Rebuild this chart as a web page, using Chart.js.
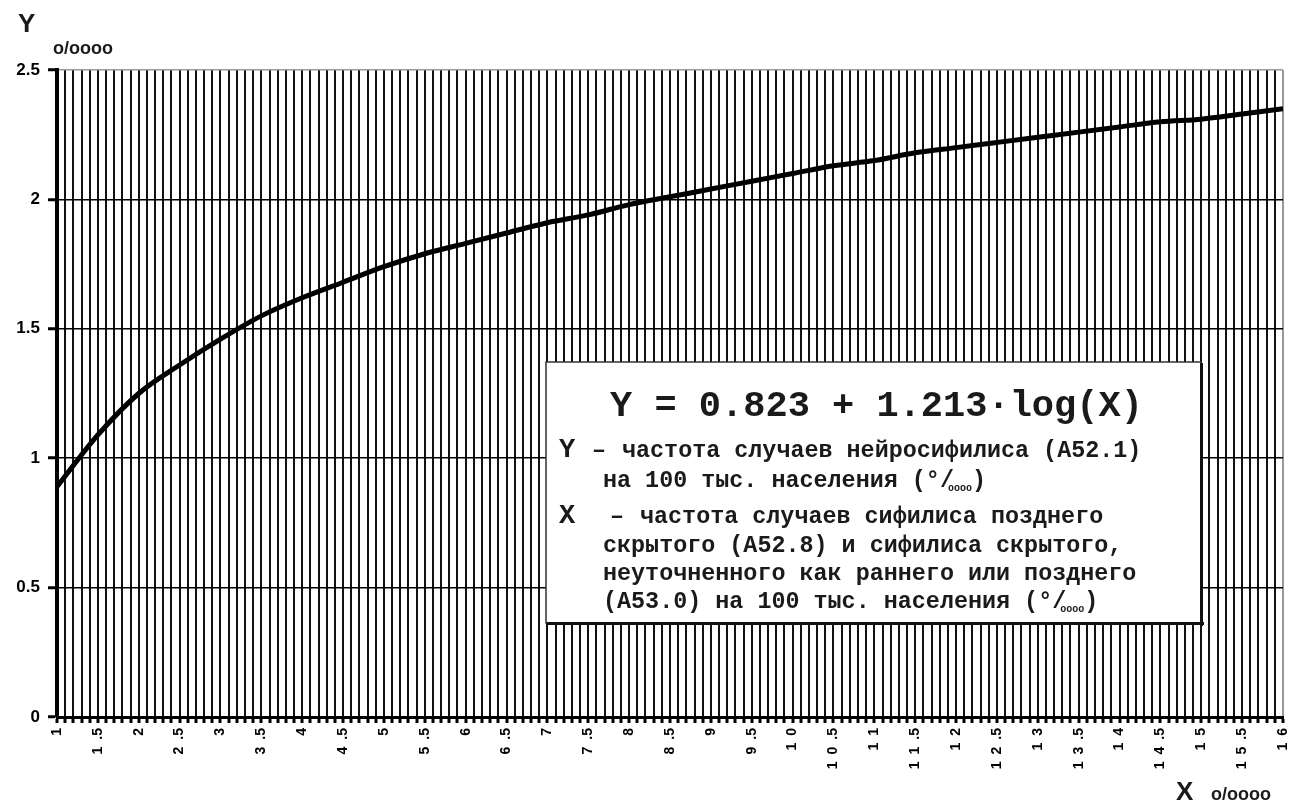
<!DOCTYPE html>
<html>
<head>
<meta charset="utf-8">
<script src="https://cdn.jsdelivr.net/npm/chart.js@4.4.1/dist/chart.umd.min.js"></script>
<style>
	html, body { margin: 0; padding: 0; background: #fff; }
	#wrap { width: 1292px; height: 802px; position: relative; }
</style>
</head>
<body>
<div id="wrap"><canvas id="chart-area"></canvas></div>
<script>
// Curve values, one every 0.5 along X
var xValues = [1, 1.5, 2, 2.5, 3, 3.5, 4, 4.5, 5, 5.5, 6, 6.5, 7, 7.5, 8, 8.5,
	9, 9.5, 10, 10.5, 11, 11.5, 12, 12.5, 13, 13.5, 14, 14.5, 15, 15.5, 16];
var yValues = [0.89, 1.09, 1.25, 1.36, 1.46, 1.55, 1.62, 1.68, 1.74, 1.79, 1.83, 1.87, 1.91, 1.94, 1.98, 2.01,
	2.04, 2.07, 2.10, 2.13, 2.15, 2.18, 2.20, 2.22, 2.24, 2.26, 2.28, 2.30, 2.31, 2.33, 2.35];

// Tick labels (spaced out like the original, en spaces)
var xTickLabels = ['1', '1\u2002.5', '2', '2\u2002.5', '3', '3\u2002.5', '4', '4\u2002.5', '5', '5\u2002.5',
	'6', '6\u2002.5', '7', '7\u2002.5', '8', '8\u2002.5', '9', '9\u2002.5',
	'1\u20020', '1\u20020\u2002.5', '1\u20021', '1\u20021\u2002.5', '1\u20022', '1\u20022\u2002.5',
	'1\u20023', '1\u20023\u2002.5', '1\u20024', '1\u20024\u2002.5', '1\u20025', '1\u20025\u2002.5', '1\u20026'];
var yTickLabels = ['0', '0.5', '1', '1.5', '2', '2.5'];

var formulaText = 'Y = 0.823 + 1.213\u00B7log(X)';

var textColor = '#1a1a1a';
var mono = '"Liberation Mono", "Courier New", monospace';
var sans = '"Liberation Sans", Arial, sans-serif';

function drawParts(ctx, x, y, parts) {
	parts.forEach(function (p) {
		ctx.font = p.font;
		x += p.dx || 0;
		ctx.fillText(p.text, x, y + (p.dy || 0));
		x += ctx.measureText(p.text).width;
	});
	return x;
}

function perMille(body) {
	return [
		{ text: '(', font: body },
		{ text: '\u00B0', font: body },
		{ text: '/', font: body },
		{ text: 'oooo', font: 'bold 10px ' + mono, dx: -6, dy: 4 },
		{ text: ')', font: body }
	];
}

var overlayPlugin = {
	id: 'overlay',
	afterDraw: function (chart) {
		var ctx = chart.ctx;
		ctx.save();
		ctx.fillStyle = textColor;
		ctx.textBaseline = 'alphabetic';
		ctx.textAlign = 'left';

		// axis titles
		ctx.font = 'bold 26px ' + sans;
		ctx.fillText('Y', 18, 32);
		ctx.fillText('X', 1176, 800);
		ctx.font = 'bold 18px ' + sans;
		ctx.fillText('o/oooo', 53, 54);
		ctx.fillText('o/oooo', 1211, 800);

		// formula box
		var bx = 546, by = 362, bw = 655, bh = 261;
		ctx.fillStyle = '#fff';
		ctx.fillRect(bx, by, bw, bh);
		ctx.strokeStyle = '#333';
		ctx.lineWidth = 1.5;
		ctx.strokeRect(bx, by, bw, bh);
		ctx.fillStyle = '#111';
		ctx.fillRect(bx + bw - 1, by + 1, 3, bh + 2);
		ctx.fillRect(bx + 1, by + bh - 1, bw + 2, 3);

		ctx.fillStyle = textColor;
		ctx.font = 'bold 37px ' + mono;
		ctx.fillText(formulaText, 610, 416);

		var body = 'bold 23.4px ' + mono;
		var big = 'bold 27px ' + mono;

		ctx.font = big;
		ctx.fillText('Y', 559, 457);
		ctx.fillText('X', 559, 523);
		ctx.font = body;
		ctx.fillText('\u2013', 592, 457);
		ctx.fillText('\u2013', 610, 523);
		ctx.fillText('частота случаев нейросифилиса (A52.1)', 622, 457);
		ctx.fillText('частота случаев сифилиса позднего', 640, 523);

		var x2 = drawParts(ctx, 603, 487, [{ text: 'на 100 тыс. населения ', font: body }]);
		drawParts(ctx, x2, 487, perMille(body));
		drawParts(ctx, 603, 552, [{ text: 'скрытого (A52.8) и сифилиса скрытого,', font: body }]);
		drawParts(ctx, 603, 580, [{ text: 'неуточненного как раннего или позднего', font: body }]);
		var x6 = drawParts(ctx, 603, 608, [{ text: '(A53.0) на 100 тыс. населения ', font: body }]);
		drawParts(ctx, x6, 608, perMille(body));

		ctx.restore();
	}
};

function isHalf(v) {
	var k = (v - 1) * 2;
	return Math.abs(k - Math.round(k)) < 1e-6;
}

var points = xValues.map(function (x, i) {
	return { x: x, y: yValues[i] };
});

var config = {
	type: 'line',
	data: {
		datasets: [{
			data: points,
			borderColor: '#000',
			borderWidth: 5,
			pointRadius: 0,
			cubicInterpolationMode: 'monotone',
			fill: false
		}]
	},
	options: {
		responsive: true,
		maintainAspectRatio: false,
		animation: false,
		layout: { padding: { top: 70, right: 9, bottom: 0, left: 0 } },
		plugins: {
			legend: { display: false },
			tooltip: { enabled: false }
		},
		scales: {
			x: {
				type: 'linear',
				min: 1,
				max: 16,
				afterFit: function (scale) {
					scale.height = 85;
					scale.paddingLeft = 0;
					scale.paddingRight = 0;
				},
				grid: {
					color: function (c) {
						return c.tick && Math.abs(c.tick.value - 16) < 1e-6 ? '#999' : '#111';
					},
					lineWidth: 2,
					drawTicks: true,
					tickLength: 6,
					tickWidth: 3,
					tickColor: '#000'
				},
				border: { display: true, color: '#000', width: 3 },
				ticks: {
					stepSize: 0.1,
					autoSkip: false,
					minRotation: 90,
					maxRotation: 90,
					padding: 5,
					color: '#000',
					font: { family: sans, weight: 'bold', size: 14 },
					callback: function (value) {
						if (!isHalf(value)) return '';
						return xTickLabels[Math.round((value - 1) * 2)];
					}
				}
			},
			y: {
				min: 0,
				max: 2.5,
				afterFit: function (scale) { scale.width = 57; },
				grid: {
					color: function (c) {
						return c.tick && Math.abs(c.tick.value - 2.5) < 1e-6 ? '#999' : '#000';
					},
					lineWidth: 1.5,
					drawTicks: true,
					tickLength: 9,
					tickWidth: 3,
					tickColor: '#000'
				},
				border: { display: true, color: '#000', width: 4 },
				ticks: {
					stepSize: 0.5,
					padding: 8,
					color: '#000',
					font: { family: sans, weight: 'bold', size: 17 },
					callback: function (value) {
						return yTickLabels[Math.round(value * 2)];
					}
				}
			}
		}
	},
	plugins: [overlayPlugin]
};

var ctx = document.getElementById('chart-area').getContext('2d');
var myChart = new Chart(ctx, config);
</script>
</body>
</html>
